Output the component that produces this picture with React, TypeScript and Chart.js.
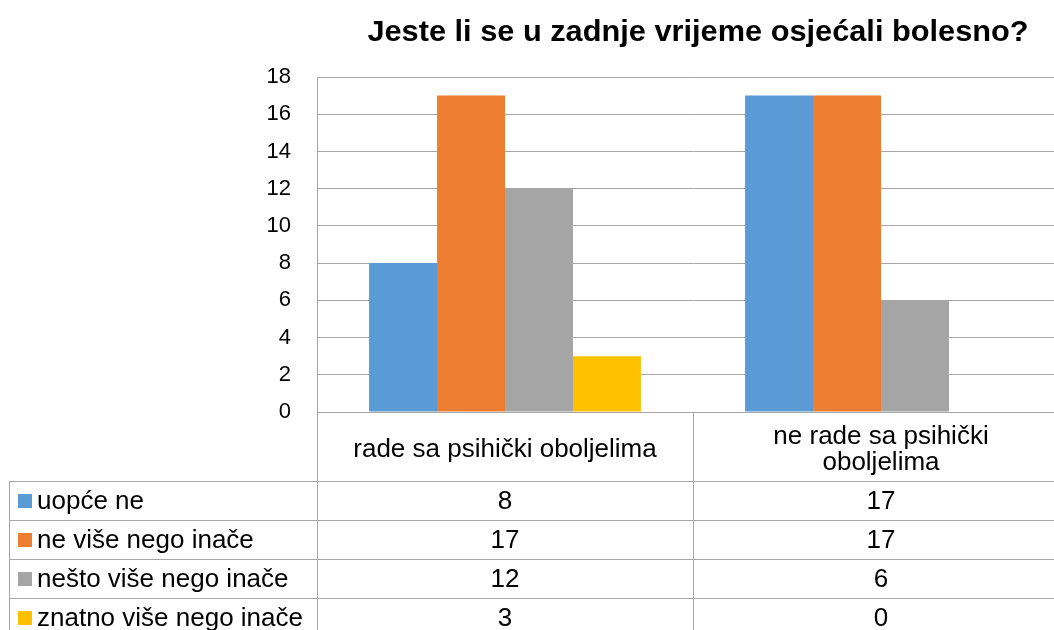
import React, { useEffect, useRef } from "react";
import { Chart, registerables } from "chart.js";

Chart.register(...registerables);

const titleText = "Jeste li se u zadnje vrijeme osjećali bolesno?";
const categories = ["rade sa psihički oboljelima", "ne rade sa psihički oboljelima"];
const seriesNames = ["uopće ne", "ne više nego inače", "nešto više nego inače", "znatno više nego inače"];
const uopceNe = [8, 17];
const neViseNegoInace = [17, 17];
const nestoViseNegoInace = [12, 6];
const znatnoViseNegoInace = [3, 0];
const seriesColors = ["#5B9BD5", "#ED7D31", "#A5A5A5", "#FFC000"];
const yMin = 0;
const yMax = 18;
const yStep = 2;

const FONT = '"Liberation Sans", Arial, sans-serif';
const LINE = "#A6A6A6";

function wrap(ctx: CanvasRenderingContext2D, text: string, maxW: number): string[] {
  const words = text.split(" ");
  const lines: string[] = [];
  let cur = "";
  for (const w of words) {
    const t = cur ? cur + " " + w : w;
    if (ctx.measureText(t).width > maxW && cur) {
      lines.push(cur);
      cur = w;
    } else cur = t;
  }
  if (cur) lines.push(cur);
  return lines;
}

const tablePlugin = {
  id: "dataTable",
  afterDraw(chart: any) {
    const ctx: CanvasRenderingContext2D = chart.ctx;
    const area = chart.chartArea;
    const xs = chart.scales.x;
    const n = categories.length;
    const centers = categories.map((_, i) => xs.getPixelForValue(i));
    const colW = (area.right - area.left) / n;
    const bounds: number[] = [];
    for (let i = 0; i <= n; i++) bounds.push(area.left + i * colW);
    const headerTop = area.bottom;
    const headerBottom = headerTop + 69;
    const rowH = 39;
    const tableLeft = 9;
    const rows = chart.data.datasets;
    const tableBottom = headerBottom + rowH * rows.length;

    ctx.save();
    // title
    ctx.fillStyle = "#000";
    ctx.font = `bold 29px ${FONT}`;
    ctx.textAlign = "center";
    ctx.textBaseline = "middle";
    ctx.save();
    ctx.translate(698, 33);
    ctx.scale(1.06, 1);
    ctx.fillText(titleText, 0, 0);
    ctx.restore();

    // lines
    ctx.strokeStyle = LINE;
    ctx.lineWidth = 1;
    ctx.beginPath();
    for (const b of bounds) {
      const x = Math.round(b) + 0.5;
      ctx.moveTo(x, headerTop);
      ctx.lineTo(x, tableBottom);
    }
    ctx.moveTo(tableLeft + 0.5, headerBottom);
    ctx.lineTo(tableLeft + 0.5, tableBottom);
    for (let r = 0; r <= rows.length; r++) {
      const y = Math.round(headerBottom + r * rowH) + 0.5;
      ctx.moveTo(tableLeft, y);
      ctx.lineTo(area.right, y);
    }
    ctx.stroke();

    // header labels
    ctx.font = `26px ${FONT}`;
    ctx.fillStyle = "#000";
    ctx.textAlign = "center";
    ctx.textBaseline = "middle";
    categories.forEach((c, i) => {
      const lines = wrap(ctx, c, 330);
      const lh = 26;
      const mid = (headerTop + headerBottom) / 2 + 3;
      lines.forEach((l, k) => {
        ctx.fillText(l, centers[i], mid + (k - (lines.length - 1) / 2) * lh);
      });
    });

    // rows
    rows.forEach((ds: any, r: number) => {
      const cy = headerBottom + r * rowH + rowH / 2 + 1.5;
      ctx.fillStyle = ds.backgroundColor;
      ctx.fillRect(18, Math.round(cy - 8), 14, 14);
      ctx.fillStyle = "#000";
      ctx.textAlign = "left";
      ctx.fillText(ds.label, 37, cy);
      ctx.textAlign = "center";
      ds.data.forEach((v: number, i: number) => {
        ctx.fillText(String(v), centers[i], cy);
      });
    });
    ctx.restore();
  },
};

export default function App() {
  const ref = useRef<HTMLCanvasElement | null>(null);
  useEffect(() => {
    if (!ref.current) return;
    const values = [uopceNe, neViseNegoInace, nestoViseNegoInace, znatnoViseNegoInace];
    const chart = new Chart(ref.current, {
      type: "bar",
      data: {
        labels: categories,
        datasets: seriesNames.map((name, i) => ({
          label: name,
          data: values[i],
          backgroundColor: seriesColors[i],
          borderWidth: 0,
          barPercentage: 1,
          categoryPercentage: 0.723,
        })),
      },
      options: {
        responsive: false,
        animation: false,
        layout: { padding: { left: 0, top: 77, right: 11, bottom: 228 } },
        plugins: { legend: { display: false }, title: { display: false }, tooltip: { enabled: false } },
        scales: {
          x: {
            ticks: { display: false },
            grid: { display: false },
            border: { display: false },
            afterFit: (s: any) => { s.height = 0; },
          },
          y: {
            min: yMin,
            max: yMax,
            ticks: { stepSize: yStep, color: "#000", font: { family: FONT, size: 22 }, padding: 26 },
            grid: { color: LINE, drawTicks: false, lineWidth: 1 },
            border: { color: LINE, width: 1 },
            afterFit: (s: any) => { s.width = 317; },
          },
        },
      },
      plugins: [tablePlugin],
    });
    return () => chart.destroy();
  }, []);
  return (
    <div style={{ position: "fixed", left: 0, top: 0, width: 1054, height: 630, overflow: "hidden", background: "#fff" }}>
      <canvas ref={ref} width={1080} height={640} style={{ display: "block" }} />
    </div>
  );
}
